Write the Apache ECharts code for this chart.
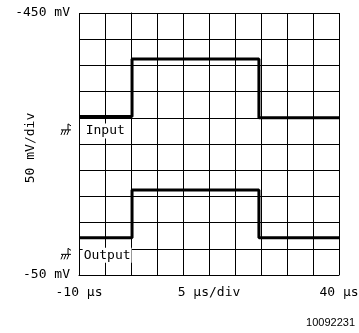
<!DOCTYPE html>
<html>
<head>
<meta charset="UTF-8">
<title>Input / Output</title>
<script src="https://cdn.jsdelivr.net/npm/echarts@6/dist/echarts.min.js"></script>
<style>
  html, body { margin: 0; padding: 0; background: #fff; }
  #main { width: 359px; height: 333px; }
</style>
</head>
<body>
<div id="main"></div>
<script>
// time in us, level in divisions counted up from the bottom line
var inputTimes = [-10, 0.2, 24.6, 40];
var inputLevels = [6.05, 8.24, 6.0, 6.0];
var outputTimes = [-10, 0.2, 24.6, 40];
var outputLevels = [1.42, 3.24, 1.42, 1.42];

var xTickLabels = { '-10': '-10 \u03bcs', '15': '5 \u03bcs/div', '40': '40 \u03bcs' };
var yTickLabels = { '0': '-50 mV', '10': '-450 mV' };
var yScaleText = '50 mV/div';

// trace names and where they sit (time, level)
var traceNames = ['Input', 'Output'];
var nameTimes = [-8.9, -9.3];
var nameLevels = [5.5, 0.75];

function pairs(xs, ys) {
    return xs.map(function (x, i) { return [x, ys[i]]; });
}

var font = '"DejaVu Sans Mono"';
var myChart = echarts.init(document.getElementById('main'));
var option = {
    animation: false,
    backgroundColor: '#fff',
    grid: { left: 79, top: 13, width: 260, height: 262, containLabel: false, outerBoundsMode: 'none' },
    xAxis: {
        type: 'value',
        min: -10, max: 40, interval: 5,
        axisLine: { lineStyle: { color: '#000', width: 1 } },
        axisTick: { show: false },
        splitLine: { lineStyle: { color: '#000', width: 1 } },
        axisLabel: {
            color: '#000', fontFamily: 'DejaVu Sans Mono', fontSize: 13, margin: 11,
            showMinLabel: true, showMaxLabel: true,
            formatter: function (v) { return xTickLabels[String(v)] || ''; }
        }
    },
    yAxis: {
        type: 'value',
        min: 0, max: 10, interval: 1,
        axisLine: { lineStyle: { color: '#000', width: 1 } },
        axisTick: { show: false },
        splitLine: { lineStyle: { color: '#000', width: 1 } },
        axisLabel: {
            color: '#000', fontFamily: 'DejaVu Sans Mono', fontSize: 13, margin: 9,
            formatter: function (v) { return yTickLabels[String(v)] || ''; }
        }
    },
    series: [
        {
            name: 'Input', type: 'line', step: 'end', symbol: 'none',
            lineStyle: { color: '#000', width: 3 },
            data: pairs(inputTimes, inputLevels)
        },
        {
            name: 'Output', type: 'line', step: 'end', symbol: 'none',
            lineStyle: { color: '#000', width: 3 },
            data: pairs(outputTimes, outputLevels)
        }
    ]
};
myChart.setOption(option);

// trace names and ground marks placed through the chart's own scales
var extras = [];
traceNames.forEach(function (name, i) {
    var p = myChart.convertToPixel({ gridIndex: 0 }, [nameTimes[i], nameLevels[i]]);
    extras.push({
        type: 'text', x: p[0], y: p[1],
        style: {
            text: name, fill: '#000', font: '13px ' + font,
            verticalAlign: 'middle', backgroundColor: '#fff', padding: [1, 1]
        },
        z: 10
    });
    var g = myChart.convertToPixel({ gridIndex: 0 }, [-10, nameLevels[i]]);
    var ox = g[0] - 18, oy = g[1] - 1;
    extras.push({
        type: 'group', x: ox, y: oy,
        children: [
            { type: 'line', shape: { x1: 0, y1: 0, x2: 10, y2: 0 }, style: { stroke: '#000', lineWidth: 1 } },
            { type: 'line', shape: { x1: 7, y1: 0, x2: 7, y2: -6 }, style: { stroke: '#000', lineWidth: 1 } },
            { type: 'line', shape: { x1: 7, y1: -6, x2: 10, y2: -4 }, style: { stroke: '#000', lineWidth: 1 } },
            { type: 'line', shape: { x1: 2, y1: 0, x2: 0, y2: 5 }, style: { stroke: '#000', lineWidth: 1 } },
            { type: 'line', shape: { x1: 5, y1: 0, x2: 3, y2: 5 }, style: { stroke: '#000', lineWidth: 1 } },
            { type: 'line', shape: { x1: 8, y1: 0, x2: 6, y2: 5 }, style: { stroke: '#000', lineWidth: 1 } }
        ]
    });
});
extras.push({
    type: 'text', x: 31, y: 148, rotation: Math.PI / 2,
    style: { text: yScaleText, fill: '#000', font: '13px ' + font, align: 'center', verticalAlign: 'middle' }
});
extras.push({
    type: 'text', right: 4, top: 317,
    style: { text: '10092231', fill: '#000', font: '11px "Liberation Sans"' }
});
myChart.setOption({ graphic: extras });
</script>
</body>
</html>
